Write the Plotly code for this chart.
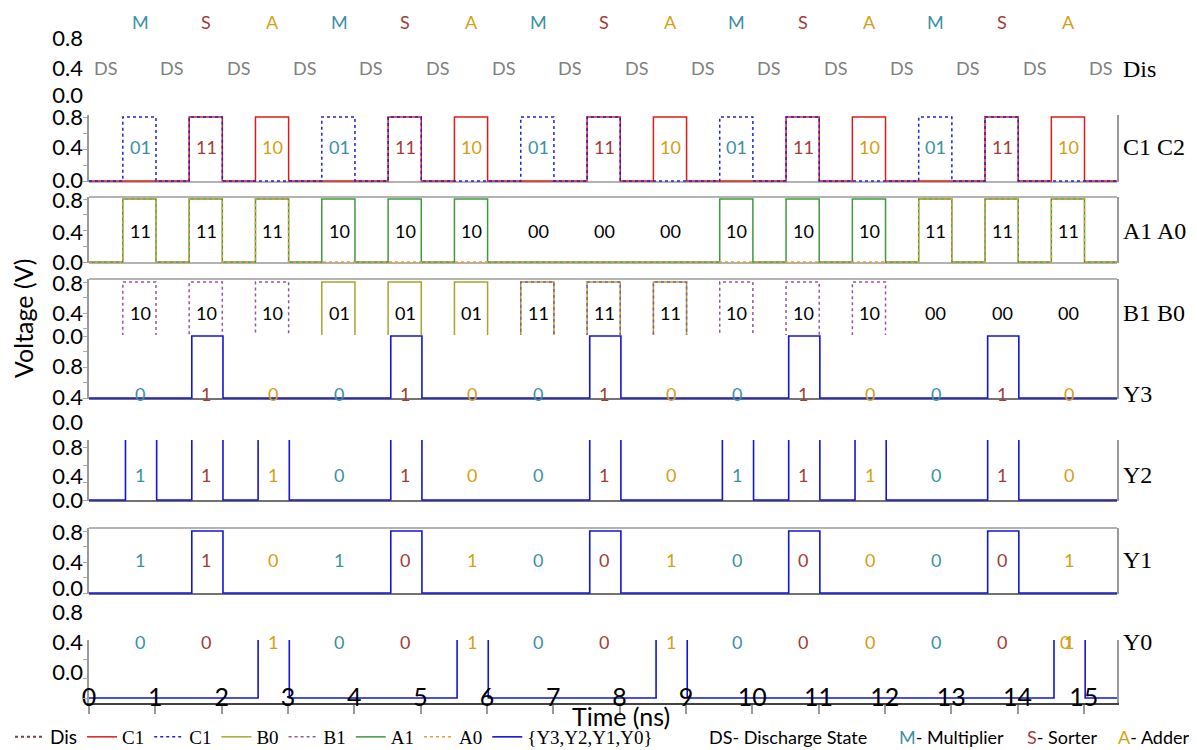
import plotly.graph_objects as go

# ---------------- data ----------------
OPS = ["M", "S", "A", "M", "S", "A", "M", "S", "A", "M", "S", "A", "M", "S", "A"]
C1C2_LABELS = ["01", "11", "10", "01", "11", "10", "01", "11", "10", "01", "11", "10", "01", "11", "10"]
A1A0_LABELS = ["11", "11", "11", "10", "10", "10", "00", "00", "00", "10", "10", "10", "11", "11", "11"]
B1B0_LABELS = ["10", "10", "10", "01", "01", "01", "11", "11", "11", "10", "10", "10", "00", "00", "00"]
Y3_LABELS = ["0", "1", "0", "0", "1", "0", "0", "1", "0", "0", "1", "0", "0", "1", "0"]
Y2_LABELS = ["1", "1", "1", "0", "1", "0", "0", "1", "0", "1", "1", "1", "0", "1", "0"]
Y1_LABELS = ["1", "1", "0", "1", "0", "1", "0", "0", "1", "0", "0", "0", "0", "0", "1"]
Y0_LABELS = ["0", "0", "1", "0", "0", "1", "0", "0", "1", "0", "0", "0", "0", "0", "1"]
Y0_OVERLAY = {14: "0"}  # second glyph printed over the last Y0 label

# waveform levels per 1 ns slot (pulse occupies the second half of each slot)
Y3_PULSES = [0, 1, 0, 0, 1, 0, 0, 1, 0, 0, 1, 0, 0, 1, 0]
Y2_PULSES = [1, 1, 1, 0, 1, 0, 0, 1, 0, 1, 1, 1, 0, 1, 0]
Y1_PULSES = [0, 1, 0, 0, 1, 0, 0, 1, 0, 0, 1, 0, 0, 1, 0]
Y0_PULSES = [0, 0, 1, 0, 0, 1, 0, 0, 1, 0, 0, 0, 0, 0, 1]
C1_BITS = [int(s[0]) for s in C1C2_LABELS]
C2_BITS = [int(s[1]) for s in C1C2_LABELS]
A1_BITS = [int(s[0]) for s in A1A0_LABELS]
A0_BITS = [int(s[1]) for s in A1A0_LABELS]
B1_BITS = [int(s[0]) for s in B1B0_LABELS]
B0_BITS = [int(s[1]) for s in B1B0_LABELS]

V_HIGH = 0.8
IN_RISE, IN_FALL = 0.51, 1.01     # ns within slot
OUT_RISE, OUT_FALL = 0.55, 1.02
T_END = 15.5
N_DS = 16
X_TICKS = list(range(16))

# ---------------- styling ----------------
OP_COLORS = {"M": "#3a91a5", "S": "#a33c36", "A": "#d4a012"}
SANS = "Lato"
SERIF = "Liberation Serif"
FRAME = "#9a9a9a"
DARK = "#444444"

PAGE_OFFSET = 8                       # default body margin of the html page
WIN_W, WIN_H = 1197, 750
PLOT_LEFT, PLOT_RIGHT = 89, 1117      # screen pixels
PLOT_TOP, PLOT_BOT = 10, 703
H = PLOT_BOT - PLOT_TOP
W = PLOT_RIGHT - PLOT_LEFT


def py(p):
    return (PLOT_BOT - p) / H


def px(p):
    return (p - PLOT_LEFT) / W


def wave(bits, rise, fall):
    xs, ys = [0.0], [0.0]
    for k, b in enumerate(bits):
        if b:
            xs += [k + rise, k + rise, k + fall, k + fall]
            ys += [0, V_HIGH, V_HIGH, 0]
    xs.append(T_END)
    ys.append(0.0)
    return xs, ys


# panel geometry in screen pixels: (top, bottom, pixel of 0 V, pixel of 0.8 V)
PANELS = {
    "y":  (115, 182, 181, 117),   # C1 C2
    "y2": (197, 263, 262, 199),   # A1 A0
    "y3": (279, 335, 344, 282),   # B1 B0
    "y4": (335, 399, 398, 336),   # Y3
    "y5": (440, 501, 500, 430),   # Y2
    "y6": (528, 594, 593, 531),   # Y1
    "y7": (640, 703, 698, 620),   # Y0
}


def val(axis, p):
    top, bot, z, hi = PANELS[axis]
    return V_HIGH * (z - p) / (z - hi)


fig = go.Figure()

# legend-only Dis entry
fig.add_trace(go.Scatter(x=[None], y=[None], mode="lines", name="<span style='font-family:Lato'>Dis</span>",
                         line=dict(color="#8b3a3a", dash="dot", width=2)))

x, y = wave(C1_BITS, IN_RISE, IN_FALL)
fig.add_trace(go.Scatter(x=x, y=y, yaxis="y", mode="lines", name="C1", line=dict(color="#e31818", width=1.5)))
x, y = wave(C2_BITS, IN_RISE, IN_FALL)
fig.add_trace(go.Scatter(x=x, y=y, yaxis="y", mode="lines", name="C1",
                         line=dict(color="#1f1fe0", width=1.5, dash="dot")))
x, y = wave(B0_BITS, IN_RISE, IN_FALL)
fig.add_trace(go.Scatter(x=x, y=y, yaxis="y3", mode="lines", name="B0", line=dict(color="#a6a62a", width=1.5)))
x, y = wave(B1_BITS, IN_RISE, IN_FALL)
fig.add_trace(go.Scatter(x=x, y=y, yaxis="y3", mode="lines", name="B1",
                         line=dict(color="#9556a0", width=1.5, dash="dot")))
x, y = wave(A1_BITS, IN_RISE, IN_FALL)
fig.add_trace(go.Scatter(x=x, y=y, yaxis="y2", mode="lines", name="A1", line=dict(color="#3f9a3f", width=1.5)))
x, y = wave(A0_BITS, IN_RISE, IN_FALL)
fig.add_trace(go.Scatter(x=x, y=y, yaxis="y2", mode="lines", name="A0",
                         line=dict(color="#f39a2a", width=1.5, dash="dot")))

for i, (ax, bits) in enumerate([("y4", Y3_PULSES), ("y5", Y2_PULSES), ("y6", Y1_PULSES), ("y7", Y0_PULSES)]):
    x, y = wave(bits, OUT_RISE, OUT_FALL)
    fig.add_trace(go.Scatter(x=x, y=y, yaxis=ax, mode="lines", name="{Y3,Y2,Y1,Y0}",
                             legendgroup="Y", showlegend=(i == 0),
                             line=dict(color="#1414d8", width=1.6)))

# invisible trace to host the tick-label axis
fig.add_trace(go.Scatter(x=[None], y=[None], yaxis="y8", showlegend=False, hoverinfo="skip"))

# ---------------- annotations ----------------
ann = []
LABEL_OFF = 0.77


def A(**kw):
    kw.setdefault("showarrow", False)
    kw.setdefault("xanchor", "center")
    kw.setdefault("yanchor", "middle")
    ann.append(kw)


for k, op in enumerate(OPS):
    xc = k + LABEL_OFF
    A(x=xc, y=py(22), xref="x", yref="paper", text=op,
      font=dict(family=SANS, size=18, color=OP_COLORS[op]))
    A(x=xc, y=val("y", 147), xref="x", yref="y", text=C1C2_LABELS[k],
      font=dict(family=SANS, size=18, color=OP_COLORS[op]))
    A(x=xc, y=val("y2", 231), xref="x", yref="y2", text=A1A0_LABELS[k],
      font=dict(family=SANS, size=18, color="black"))
    A(x=xc, y=val("y3", 313), xref="x", yref="y3", text=B1B0_LABELS[k],
      font=dict(family=SANS, size=18, color="black"))
    for ax, pix, labels in [("y4", 394, Y3_LABELS), ("y5", 475, Y2_LABELS),
                            ("y6", 560, Y1_LABELS), ("y7", 642, Y0_LABELS)]:
        A(x=xc, y=val(ax, pix), xref="x", yref=ax, text=labels[k],
          font=dict(family=SANS, size=18, color=OP_COLORS[op]))
for k, t in Y0_OVERLAY.items():
    A(x=k + LABEL_OFF - 0.05, y=val("y7", 642), xref="x", yref="y7", text=t,
      font=dict(family=SANS, size=18, color=OP_COLORS[OPS[k]]))

for k in range(N_DS):
    A(x=k + 0.25, y=py(68), xref="x", yref="paper", text="DS",
      font=dict(family=SANS, size=18, color="#808080"))

RIGHT_LABELS = [("Dis", 69), ("C1 C2", 147), ("A1 A0", 231), ("B1 B0", 313),
                ("Y3", 394), ("Y2", 475), ("Y1", 560), ("Y0", 642)]
for t, pix in RIGHT_LABELS:
    A(x=1.0, y=py(pix), xref="paper", yref="paper", text=t, xanchor="left", xshift=4,
      font=dict(family=SERIF, size=24, color="black"))

A(x=px(621), y=py(716), xref="paper", yref="paper", text="Time (ns)",
  font=dict(family=SANS, size=25, color="black"))
A(x=px(23), y=py(318), xref="paper", yref="paper", text="Voltage (V)", textangle=-90,
  font=dict(family=SANS, size=25, color="black"))

KEY = [("DS- Discharge State", None, 707), ("M- Multiplier", "M", 897),
       ("S- Sorter", "S", 1025), ("A- Adder", "A", 1116)]
for t, op, xp in KEY:
    if op:
        t = "<span style='color:%s'>%s</span>%s" % (OP_COLORS[op], t[0], t[1:])
    A(x=px(xp), y=py(737), xref="paper", yref="paper", text=t, xanchor="left",
      font=dict(family=SANS, size=18, color="black"))

# ---------------- frames ----------------
shapes = []


def hline(axis, where, color=FRAME, width=1.5):
    shapes.append(dict(type="line", xref="x domain", yref="%s domain" % axis, x0=0, x1=1, y0=where, y1=where,
                       line=dict(color=color, width=width), layer="below"))


hline("y", 0)
hline("y2", 1)
hline("y2", 0)
hline("y3", 1)
hline("y4", 0, DARK)
hline("y5", 0, DARK)
hline("y6", 1)
hline("y6", 0, DARK)

# ---------------- layout ----------------
layout = dict(
    width=WIN_W - PAGE_OFFSET, height=WIN_H - PAGE_OFFSET,
    margin=dict(l=PLOT_LEFT - PAGE_OFFSET, r=WIN_W - PLOT_RIGHT, t=PLOT_TOP - PAGE_OFFSET,
                b=WIN_H - PLOT_BOT, pad=0, autoexpand=False),
    paper_bgcolor="white", plot_bgcolor="rgba(0,0,0,0)",
    showlegend=True,
    legend=dict(orientation="h", x=px(10), y=py(737), xanchor="left", yanchor="middle",
                font=dict(family=SERIF, size=19, color="black"), bgcolor="rgba(0,0,0,0)",
                itemwidth=30, tracegroupgap=0),
    annotations=ann, shapes=shapes,
    xaxis=dict(range=[0, T_END], tickvals=X_TICKS, ticks="outside", ticklen=9, tickwidth=1.5,
               tickcolor="#999999", showline=True, linecolor=DARK, linewidth=1.5, showgrid=False,
               zeroline=False, anchor="y7", automargin=False, ticklabelposition="outside",
               ticklabelstandoff=-38,
               tickfont=dict(family=SANS, size=25, color="black")),
)

for ax, (top, bot, z, hi) in PANELS.items():
    key = "yaxis" if ax == "y" else "yaxis" + ax[1:]
    layout[key] = dict(domain=[py(bot), py(top)], range=[val(ax, bot), val(ax, top)],
                       anchor="x", showline=True, mirror=True, linecolor=FRAME, linewidth=1.5,
                       ticks="outside", ticklen=4, tickcolor="#aaaaaa", dtick=0.2, tick0=0,
                       showticklabels=False, showgrid=False, zeroline=False, automargin=False)

LEFT_TICK_TEXT = ["0.8", "0.4", "0.0", "0.8", "0.4", "0.0", "0.8", "0.4", "0.0", "0.8", "0.4",
                  "0.0", "0.8", "0.4", "0.0", "0.8", "0.4", "0.0", "0.8", "0.4", "0.0", "0.8", "0.4", "0.0"]
LEFT_TICK_PX = [38, 68, 95, 117, 147, 180, 200, 232, 262, 283, 313,
                336, 366, 397, 422, 447, 476, 500, 532, 562, 588, 612, 642, 672]
layout["yaxis8"] = dict(domain=[0, 1], range=[PLOT_BOT, PLOT_TOP], anchor="x", showline=False,
                        ticks="", tickvals=LEFT_TICK_PX, ticktext=LEFT_TICK_TEXT, showgrid=False,
                        zeroline=False, automargin=False, ticklabelstandoff=5,
                        tickfont=dict(family=SANS, size=22, color="black"))

fig.update_layout(**layout)
fig.write_html("out.html")
